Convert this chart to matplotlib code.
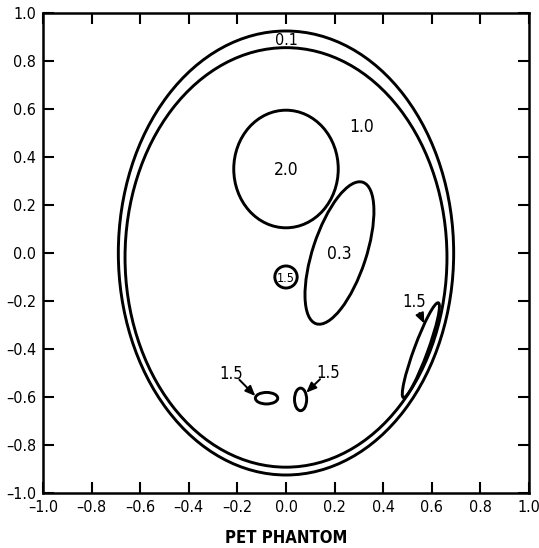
import matplotlib
matplotlib.use("Agg")
import matplotlib.pyplot as plt
from matplotlib.patches import Ellipse

# Phantom ellipses: centre x, centre y, semi-axis x, semi-axis y, rotation (deg)
ell_cx = [0.0, 0.0, 0.0, 0.22, 0.0, -0.08, 0.06, 0.555]
ell_cy = [0.0, -0.0184, 0.35, 0.0, -0.10, -0.605, -0.61, -0.405]
ell_ax = [0.69, 0.6624, 0.215, 0.11, 0.046, 0.046, 0.025, 0.028]
ell_ay = [0.925, 0.874, 0.245, 0.31, 0.046, 0.024, 0.047, 0.21]
ell_rot = [0, 0, 0, -18, 0, 0, 0, -20]

# Region activity labels placed inside regions
lbl_text = ["0.1", "1.0", "2.0", "0.3", "1.5"]
lbl_x = [0.0, 0.31, 0.0, 0.22, 0.0]
lbl_y = [0.885, 0.525, 0.345, -0.005, -0.105]
lbl_size = [11.5, 12.5, 12.5, 12.5, 9]

# Labels pointing at small regions with arrows (text, tail, head)
arr_text = ["1.5", "1.5", "1.5"]
arr_tx = [-0.227, 0.175, 0.527]
arr_ty = [-0.505, -0.50, -0.205]
arr_sx = [-0.192, 0.140, 0.549]
arr_sy = [-0.528, -0.526, -0.250]
arr_px = [-0.126, 0.083, 0.569]
arr_py = [-0.596, -0.582, -0.294]

ticks = [-1.0, -0.8, -0.6, -0.4, -0.2, 0.0, 0.2, 0.4, 0.6, 0.8, 1.0]
tick_labels = ["\u20131.0", "\u20130.8", "\u20130.6", "\u20130.4", "\u20130.2",
               "0.0", "0.2", "0.4", "0.6", "0.8", "1.0"]

FONT = dict(family="DejaVu Sans", stretch="condensed")

fig = plt.figure(figsize=(5.39, 5.48), dpi=100)
ax = fig.add_axes([43 / 539, 1 - 493 / 548, 486 / 539, 480 / 548])

for cx, cy, a, b, r in zip(ell_cx, ell_cy, ell_ax, ell_ay, ell_rot):
    ax.add_patch(Ellipse((cx, cy), 2 * a, 2 * b, angle=r, fill=False,
                         edgecolor="black", linewidth=2.1))

for t, x, y, fs in zip(lbl_text, lbl_x, lbl_y, lbl_size):
    ax.text(x, y, t, ha="center", va="center", fontsize=fs, **FONT)

for t, tx, ty, sx, sy, px, py in zip(arr_text, arr_tx, arr_ty,
                                     arr_sx, arr_sy, arr_px, arr_py):
    ax.text(tx, ty, t, ha="center", va="center", fontsize=12, **FONT)
    ax.annotate("", xy=(px, py), xytext=(sx, sy),
                arrowprops=dict(arrowstyle="-|>,head_length=0.6,head_width=0.25",
                                color="black", lw=1.4, mutation_scale=10,
                                shrinkA=0, shrinkB=0))

ax.set_xlim(-1, 1)
ax.set_ylim(-1, 1)
ax.set_xticks(ticks)
ax.set_yticks(ticks)
ax.set_xticklabels(tick_labels, **FONT)
ax.set_yticklabels(tick_labels, **FONT)
ax.tick_params(direction="in", length=8, width=1.5, top=True, right=True,
               labelsize=11.5, pad=5)
for s in ax.spines.values():
    s.set_linewidth(1.8)
ax.set_xlabel("PET PHANTOM", fontsize=12, fontweight="bold", labelpad=10,
              **FONT)

fig.savefig("out.png", dpi=100)
